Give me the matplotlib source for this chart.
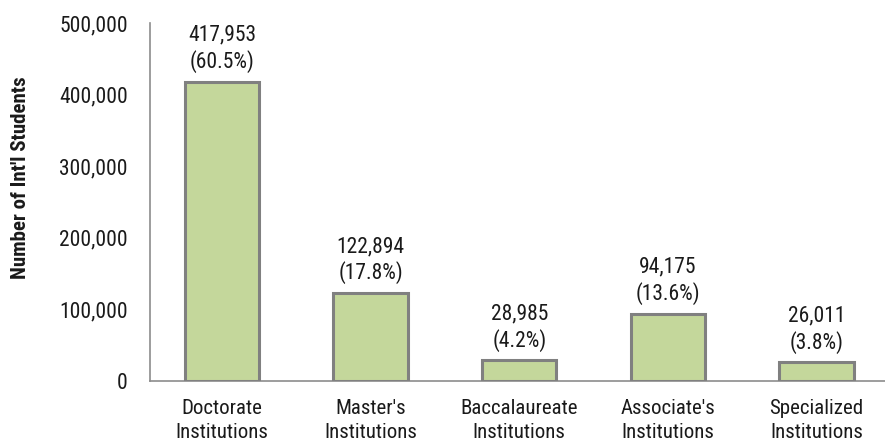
import matplotlib.pyplot as plt
from matplotlib import font_manager
from matplotlib.ticker import FuncFormatter

categories = ["Doctorate\nInstitutions", "Master's\nInstitutions", "Baccalaureate\nInstitutions",
              "Associate's\nInstitutions", "Specialized\nInstitutions"]
students = [417953, 122894, 28985, 94175, 26011]
shares = [60.5, 17.8, 4.2, 13.6, 3.8]

# condensed face like the original, falling back to plain Liberation Sans
names = {f.name for f in font_manager.fontManager.ttflist}
font = "Liberation Sans"
for cand in ["Roboto Condensed", "Liberation Sans Narrow", "Archivo Narrow", "Arial Narrow"]:
    if cand in names:
        font = cand
        break
plt.rcParams['font.family'] = [font, 'DejaVu Sans']

fig = plt.figure(figsize=(8.85, 4.44), dpi=100)
ax = fig.add_axes([0.1695, 0.142, 0.8305, 0.806])

x = range(len(categories))
ax.bar(x, students, width=0.5, color="#c4d79b", edgecolor="#808080", linewidth=2.2, zorder=3)

for xi, v, s in zip(x, students, shares):
    ax.text(xi, v + 12000, f"{v:,}\n({s}%)", ha="center", va="bottom",
            fontsize=15.5, color="#1a1a1a", linespacing=1.25)

ax.set_xlim(-0.484, 4.46)
ax.set_ylim(0, 500000)
ax.set_yticks(range(0, 500001, 100000))
ax.yaxis.set_major_formatter(FuncFormatter(lambda v, p: f"{int(v):,}"))
ax.set_xticks(list(x))
ax.set_xticklabels(categories, fontsize=15, color="#1a1a1a", linespacing=1.3)
ax.tick_params(axis="y", length=0, pad=16, labelsize=15.5, labelcolor="#1a1a1a")
ax.tick_params(axis="x", length=0, pad=13)

for side in ["top", "right"]:
    ax.spines[side].set_visible(False)
for side in ["left", "bottom"]:
    ax.spines[side].set_color("#8c8c8c")
    ax.spines[side].set_linewidth(1.2)

# y title sits a bit above the axes centre in the original
fig.text(0.023, 0.599, "Number of Int'l Students", rotation=90, ha="center", va="center",
         fontsize=15, fontweight="heavy", color="#1a1a1a")

fig.savefig("out.png", dpi=100)
